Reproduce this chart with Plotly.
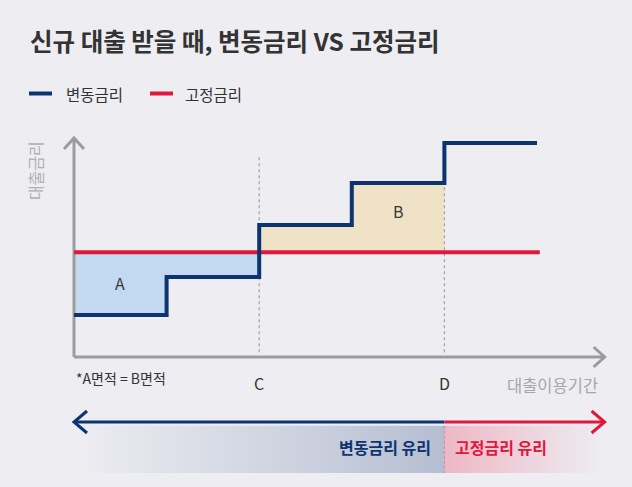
import plotly.graph_objects as go

# ---------------- data ----------------
period_edges = [0, 1, 2, 3, 4, 5]            # loan-period boundaries
variable_rate = [1.05, 2.0, 3.3, 4.35, 5.35]  # variable rate per period
fixed_rate = 2.62                              # fixed rate
point_c = 2
point_d = 4
area_labels = ["A", "B"]
series_names = ["변동금리", "고정금리"]

# ---------------- style ----------------
W, H = 632, 487
BG = "#EDEDF2"
NAVY = "#0E3470"
RED = "#E2173D"
GRAY = "#9C9C9C"
FILL_A = "#C3D8F1"
FILL_B = "#EFE2C7"
FONT = "Noto Sans CJK KR"
TXT = "#333333"

# pixel mapping used only to set axis ranges
X0_PX, X_UNIT = 74, 92.6
Y0_PX, Y_UNIT = 357, 40.0
xr = [(0 - X0_PX) / X_UNIT, (W - X0_PX) / X_UNIT]
yr = [(Y0_PX - H) / Y_UNIT, (Y0_PX - 0) / Y_UNIT]
def dx(px): return px / X_UNIT
def dy(px): return px / Y_UNIT

x_end = period_edges[-1]
x_tip = 5.73
y_tip = 5.475
arrow_y = -1.625
bar_top, bar_bot = -1.72, -2.9

fig = go.Figure()

# area A: below fixed line, periods 0..point_c
ax_, ay_ = [], []
for i in range(point_c):
    ax_ += [period_edges[i], period_edges[i + 1]]
    ay_ += [variable_rate[i], variable_rate[i]]
ax_ += [period_edges[point_c], period_edges[0]]
ay_ += [fixed_rate, fixed_rate]
fig.add_trace(go.Scatter(x=ax_, y=ay_, fill="toself", fillcolor=FILL_A,
                         mode="none", showlegend=False, hoverinfo="skip"))
# area B: above fixed line, periods point_c..point_d
bx_, by_ = [], []
for i in range(point_c, point_d):
    bx_ += [period_edges[i], period_edges[i + 1]]
    by_ += [variable_rate[i], variable_rate[i]]
bx_ += [period_edges[point_d], period_edges[point_c]]
by_ += [fixed_rate, fixed_rate]
fig.add_trace(go.Scatter(x=bx_, y=by_, fill="toself", fillcolor=FILL_B,
                         mode="none", showlegend=False, hoverinfo="skip"))

# dotted guides at C and D
fig.add_trace(go.Scatter(x=[point_c, point_c], y=[0.12, 5.0], mode="lines",
                         line=dict(color="#A8A8A8", width=1.3, dash="3px,3px"),
                         showlegend=False, hoverinfo="skip"))
fig.add_trace(go.Scatter(x=[point_d, point_d], y=[0.12, variable_rate[point_d - 1]], mode="lines",
                         line=dict(color="#A8A8A8", width=1.3, dash="3px,3px"),
                         showlegend=False, hoverinfo="skip"))

# axes with open arrowheads
fig.add_trace(go.Scatter(x=[0, 0, None, -dx(10), 0, dx(10)],
                         y=[0, y_tip, None, y_tip - dy(11), y_tip, y_tip - dy(11)],
                         mode="lines", line=dict(color=GRAY, width=3),
                         showlegend=False, hoverinfo="skip"))
fig.add_trace(go.Scatter(x=[0, x_tip, None, x_tip - dx(11), x_tip, x_tip - dx(11)],
                         y=[0, 0, None, dy(10), 0, -dy(10)],
                         mode="lines", line=dict(color=GRAY, width=3),
                         showlegend=False, hoverinfo="skip"))

# fixed rate
fig.add_trace(go.Scatter(x=[period_edges[0], x_end + 0.03], y=[fixed_rate, fixed_rate],
                         mode="lines", line=dict(color=RED, width=4),
                         name=series_names[1], showlegend=False))
# variable rate (step)
fig.add_trace(go.Scatter(x=period_edges, y=variable_rate + [variable_rate[-1]],
                         mode="lines", line=dict(color=NAVY, width=4, shape="hv"),
                         name=series_names[0], showlegend=False))

# bottom gradient bars
fig.add_trace(go.Scatter(x=[0.05, point_d, point_d, 0.05], y=[bar_top, bar_top, bar_bot, bar_bot],
                         fill="toself", mode="none", showlegend=False, hoverinfo="skip",
                         fillgradient=dict(type="horizontal",
                                           colorscale=[[0, "rgba(14,52,112,0)"],
                                                       [1, "rgba(14,52,112,0.25)"]])))
fig.add_trace(go.Scatter(x=[point_d, 5.7, 5.7, point_d], y=[bar_top, bar_top, bar_bot, bar_bot],
                         fill="toself", mode="none", showlegend=False, hoverinfo="skip",
                         fillgradient=dict(type="horizontal",
                                           colorscale=[[0, "rgba(240,70,100,0.32)"],
                                                       [1, "rgba(240,70,100,0)"]])))
fig.add_trace(go.Scatter(x=[point_d, point_d], y=[bar_top, bar_bot], mode="lines",
                         line=dict(color="#C98A98", width=1, dash="3px,2px"),
                         showlegend=False, hoverinfo="skip"))

# bottom double arrow
fig.add_trace(go.Scatter(x=[0, point_d, None, dx(13), 0, dx(13)],
                         y=[arrow_y, arrow_y, None, arrow_y + dy(11), arrow_y, arrow_y - dy(11)],
                         mode="lines", line=dict(color=NAVY, width=3),
                         showlegend=False, hoverinfo="skip"))
fig.add_trace(go.Scatter(x=[point_d, x_tip, None, x_tip - dx(13), x_tip, x_tip - dx(13)],
                         y=[arrow_y, arrow_y, None, arrow_y + dy(11), arrow_y, arrow_y - dy(11)],
                         mode="lines", line=dict(color=RED, width=3),
                         showlegend=False, hoverinfo="skip"))

ann = []
def add_text(text, x, y, size, color=TXT, xanchor="center", weight="normal", angle=0,
             xref="x", yref="y"):
    ann.append(dict(text=text, x=x, y=y, xref=xref, yref=yref, showarrow=False,
                    xanchor=xanchor, yanchor="middle", textangle=angle,
                    font=dict(family=FONT, size=size, color=color, weight=weight)))

# labels in data space
add_text(area_labels[0], 0.5, 1.85, 16, "#3A3A3A")
add_text(area_labels[1], 3.5, 3.65, 16, "#3A3A3A")
add_text("C", point_c, -0.65, 16)
add_text("D", point_d, -0.65, 16)
add_text("대출이용기간", 5.68, -0.7, 16.5, "#A8A8A8", xanchor="right")
add_text("*A면적 = B면적", 0.0, -0.53, 14, xanchor="left")
add_text("대출금리", -0.42, 4.65, 16, "#B0B0B0", angle=-90)
add_text("변동금리 유리", point_d - 0.12, -2.26, 16, NAVY, xanchor="right", weight="bold")
add_text("고정금리 유리", point_d + 0.09, -2.26, 16, RED, xanchor="left", weight="bold")

# title + manual legend (paper space)
def px(x): return x / W
def py(y): return 1 - y / H
add_text("신규 대출 받을 때, 변동금리 VS 고정금리", px(28), py(41), 24.5, TXT,
         xanchor="left", weight="bold", xref="paper", yref="paper")
add_text(series_names[0], px(64), py(94), 15.5, TXT, xanchor="left", xref="paper", yref="paper")
add_text(series_names[1], px(183), py(94), 15.5, TXT, xanchor="left", xref="paper", yref="paper")

shapes = [
    dict(type="line", xref="paper", yref="paper", x0=px(29), x1=px(52), y0=py(93.5), y1=py(93.5),
         line=dict(color=NAVY, width=4)),
    dict(type="line", xref="paper", yref="paper", x0=px(150), x1=px(173), y0=py(93.5), y1=py(93.5),
         line=dict(color=RED, width=4)),
]

fig.update_layout(
    width=W, height=H, autosize=False,
    margin=dict(l=0, r=0, t=0, b=0, pad=0),
    paper_bgcolor=BG, plot_bgcolor=BG,
    xaxis=dict(range=xr, visible=False, fixedrange=True),
    yaxis=dict(range=yr, visible=False, fixedrange=True),
    annotations=ann, shapes=shapes, showlegend=False,
)

fig.write_html("out.html", config={"displayModeBar": False},
               post_script="document.body.style.margin='0';")
